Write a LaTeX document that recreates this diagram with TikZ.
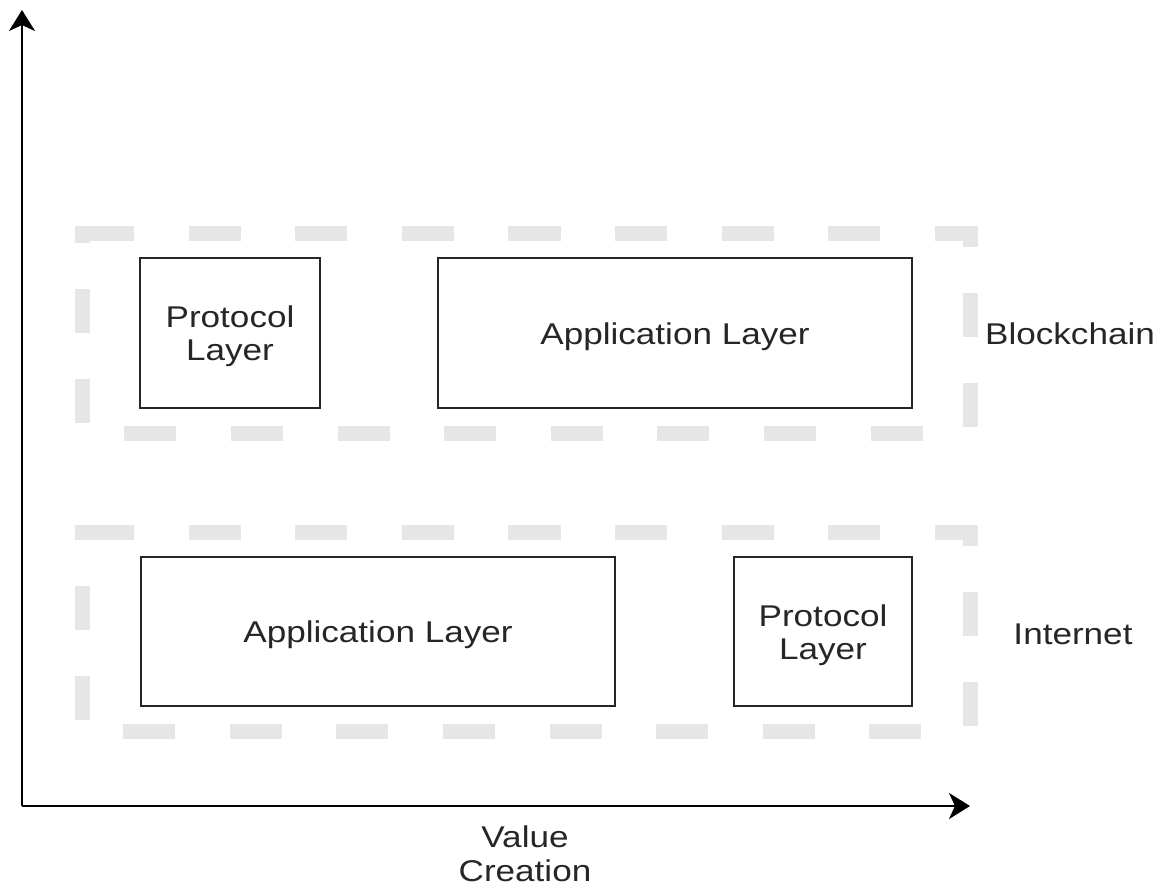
\documentclass[tikz,border=0pt]{standalone}
\usepackage{fontspec}
\setmainfont{Liberation Sans}
\usetikzlibrary{arrows.meta}
\definecolor{framegray}{HTML}{E6E6E6}
\newcommand{\wtxt}[1]{\raisebox{-4pt}[\height][\depth]{\scalebox{1.17}[1]{\begin{tabular}{@{}c@{}}#1\end{tabular}}}}
\tikzset{
  layerbox/.style={draw=black!85, line width=2pt, inner sep=0pt, fill=white, text=black!85, font=\fontsize{30}{35}\selectfont},
  framebase/.style={draw=framegray, line width=15pt},
  fh/.style={framebase, dash pattern=on 52.1pt off 54.5pt},
  fv/.style={framebase, dash pattern=on 44pt off 46pt},
  axisline/.style={draw=black, line width=2.5pt, -{Stealth[length=21pt,width=26pt,inset=6pt]}},
  lbl/.style={inner sep=0pt, text=black!85, font=\fontsize{30}{35}\selectfont},
}
% #1 name, #2 top y, #3 bottom y, #4 bottom phase, #5 left phase
\newcommand{\dashframe}[5]{%
  \coordinate (#1tl) at (82,#2);
  \coordinate (#1tr) at (970,#2);
  \coordinate (#1br) at (970,#3);
  \coordinate (#1bl) at (82,#3);
  \coordinate (#1te) at (977.5,#2);
  \coordinate (#1le) at (82,#2-7.5);
  \draw[fh] (#1tl) -- (#1te);
  \draw[fv, dash phase=30pt] (#1tr) -- (#1br);
  \draw[fh, dash phase=#4] (#1br) -- (#1bl);
  \draw[fv, dash phase=#5] (#1bl) -- (#1le);
}
\begin{document}
\begin{tikzpicture}[x=1pt,y=-1pt]
\useasboundingbox (0,0) rectangle (1162,886);
% frames
\dashframe{fa}{233}{433}{59.2pt}{80pt}
\dashframe{fb}{532}{731}{58pt}{79pt}
% axes
\coordinate (o) at (22,806);
\coordinate (ytip) at (22,10);
\coordinate (xtip) at (970,806);
\draw[axisline] (o) -- (ytip);
\draw[axisline] (o) -- (xtip);
% boxes
\node[layerbox, minimum width=180pt, minimum height=150pt] (p1) at (230,333) {\wtxt{Protocol\\[-2pt]Layer}};
\node[layerbox, minimum width=474pt, minimum height=150pt] (a1) at (675,333) {\wtxt{Application Layer}};
\node[layerbox, minimum width=474pt, minimum height=149pt] (a2) at (378,631.5) {\wtxt{Application Layer}};
\node[layerbox, minimum width=178pt, minimum height=149pt] (p2) at (823,631.5) {\wtxt{Protocol\\[-2pt]Layer}};
% labels
\node[lbl] (bc) at (1070,333) {\wtxt{Blockchain}};
\node[lbl] (in) at (1073,633) {\wtxt{Internet}};
\node[lbl] (vc) at (525,853) {\wtxt{Value\\[-1pt]Creation}};
\end{tikzpicture}
\end{document}
